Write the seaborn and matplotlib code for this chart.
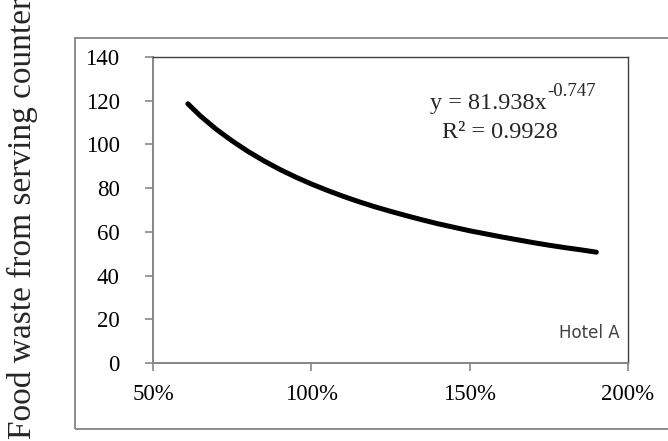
import numpy as np
import pandas as pd
import matplotlib
matplotlib.use("Agg")
import matplotlib.pyplot as plt
import matplotlib.patches as patches
from matplotlib.ticker import FuncFormatter
import seaborn as sns

# valores (nivel de corte vs desperdicio)
nivel_corte = [0.61, 0.65, 0.70, 0.75, 0.80, 0.85, 0.90, 0.95, 1.00, 1.05, 1.10, 1.15,
               1.20, 1.25, 1.30, 1.35, 1.40, 1.45, 1.50, 1.55, 1.60, 1.65, 1.70, 1.75,
               1.80, 1.85, 1.90]
desperdicio = [118.6, 113.0, 106.9, 101.6, 96.8, 92.5, 88.6, 85.1, 81.9, 79.0, 76.3, 73.8,
               71.5, 69.4, 67.4, 65.5, 63.7, 62.1, 60.5, 59.1, 57.7, 56.4, 55.1, 53.9,
               52.8, 51.8, 50.7]

y_ticks = [0, 20, 40, 60, 80, 100, 120, 140]
x_ticks = [0.5, 1.0, 1.5, 2.0]

texto_eq = "y = 81.938x"
texto_exp = "-0.747"
texto_r2 = "R² = 0.9928"
rotulo_hotel = "Hotel A"
rotulo_y = "Food waste from serving counter"

sns.set_theme(style="white")
plt.rcParams["font.family"] = ["Liberation Serif", "DejaVu Serif"]

df = pd.DataFrame({"nivel": nivel_corte, "desperdicio": desperdicio})

W, H = 668, 441
fig = plt.figure(figsize=(W / 100, H / 100), dpi=100)
ax = fig.add_axes([153 / W, 1 - 363 / H, 475 / W, 306 / H])

# moldura externa do grafico
moldura = patches.Rectangle((75 / W, 1 - 429 / H), 1.0, 391 / H,
                            transform=fig.transFigure, fill=False,
                            edgecolor="#8c8c8c", linewidth=1.4, clip_on=False)
fig.patches.append(moldura)

sns.lineplot(data=df, x="nivel", y="desperdicio", ax=ax, color="black",
             linewidth=3.6, solid_capstyle="round")

ax.set_xlim(0.5, 2.0)
ax.set_ylim(0, 140)
ax.set_xticks(x_ticks)
ax.set_yticks(y_ticks)
ax.xaxis.set_major_formatter(FuncFormatter(lambda v, p: f"{v * 100:.0f}%"))
ax.set_xlabel("")
ax.set_ylabel("")

for lado in ["left", "bottom"]:
    ax.spines[lado].set_color("#868686")
    ax.spines[lado].set_linewidth(1.4)
for lado in ["top", "right"]:
    ax.spines[lado].set_color("#404040")
    ax.spines[lado].set_linewidth(1.0)

ax.tick_params(axis="y", direction="out", length=6, width=1.2, color="#868686",
               pad=18, labelsize=16.5, labelcolor="black", left=True)
ax.tick_params(axis="x", direction="out", length=6, width=1.2, color="#868686",
               pad=9, labelsize=16.5, labelcolor="black", bottom=True)

# equacao da linha de tendencia
fig.text(547 / W, 1 - 103 / H, texto_eq, fontsize=17.5, ha="right", va="center")
fig.text(547 / W, 1 - 92 / H, texto_exp, fontsize=13.5, ha="left", va="center")
fig.text(500 / W, 1 - 133 / H, texto_r2, fontsize=17.5, ha="center", va="center")
fig.text(589 / W, 1 - 333 / H, rotulo_hotel, fontsize=12,
         family="DejaVu Sans", color="#404040", ha="center", va="center")

fig.text(22 / W, 0.005, rotulo_y, rotation=90, fontsize=24, ha="center", va="bottom")

fig.savefig("out.png", dpi=100)
